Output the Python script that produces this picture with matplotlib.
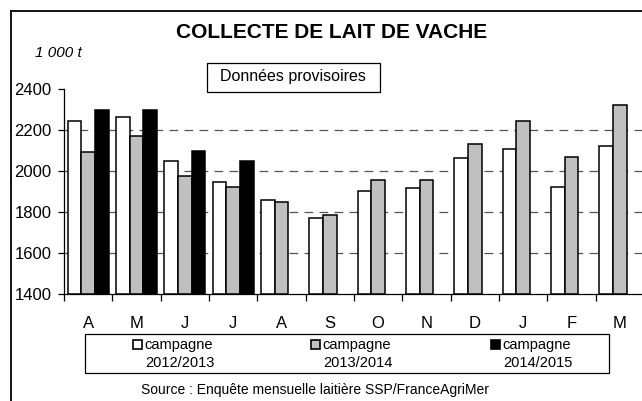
import numpy as np
import matplotlib
matplotlib.use("Agg")
import matplotlib.pyplot as plt
from matplotlib.patches import Rectangle
from matplotlib.lines import Line2D

plt.rcParams['font.family'] = ['Liberation Sans', 'DejaVu Sans']

months = ["A", "M", "J", "J", "A", "S", "O", "N", "D", "J", "F", "M"]
c2012 = [2243, 2261, 2048, 1946, 1860, 1770, 1901, 1915, 2061, 2106, 1924, 2123]
c2013 = [2095, 2170, 1974, 1922, 1850, 1785, 1958, 1957, 2131, 2243, 2066, 2323]
c2014 = [2298, 2298, 2100, 2051]
series_labels = ["campagne\n2012/2013", "campagne\n2013/2014", "campagne\n2014/2015"]
colors = ["white", "#c0c0c0", "black"]

W, H = 642, 401
fig = plt.figure(figsize=(W / 100, H / 100), dpi=100)

def fx(px):
    return px / W

def fy(py):
    return 1 - py / H

ax = fig.add_axes([fx(64), fy(294), fx(644) - fx(64), fy(89) - fy(294)])
bw = 0.283
x = np.arange(len(months))
for i, (vals, col) in enumerate(zip([c2012, c2013, c2014], colors)):
    xi = np.arange(len(vals))
    ax.bar(xi + (i - 1) * bw, np.array(vals) - 1400, bottom=1400, width=bw,
           color=col, edgecolor="black", linewidth=1.1, zorder=3)

ax.set_xlim(-0.5, 11.5)
ax.set_ylim(1400, 2400)
ax.set_yticks([1400, 1600, 1800, 2000, 2200, 2400])
ax.set_yticklabels(["1400", "1600", "1800", "2000", "2200", "2400"], fontsize=12)
for yv in [1600, 1800, 2000, 2200]:
    ax.axhline(yv, color="#555555", linewidth=0.9, dashes=(7, 5), zorder=1)

ax.set_xticks(x)
ax.set_xticklabels(months, fontsize=12)
ax.tick_params(axis="x", which="major", length=0, pad=16)
ax.set_xticks(np.arange(-0.5, 12, 1), minor=True)
ax.tick_params(axis="x", which="minor", length=5, width=0.9, direction="out")
ax.tick_params(axis="y", length=4, width=0.9, direction="out", pad=5)
for s in ["top", "right"]:
    ax.spines[s].set_visible(False)
ax.spines["left"].set_linewidth(0.9)
ax.spines["bottom"].set_linewidth(0.9)
ax.set_facecolor("none")

# outer frame (left and top)
fig.add_artist(Line2D([fx(11), fx(11)], [fy(11), 0], color="black", linewidth=1.3))
fig.add_artist(Line2D([fx(11), 1], [fy(11), fy(11)], color="black", linewidth=1.3))

fig.text(fx(332), fy(33), "COLLECTE DE LAIT DE VACHE", fontsize=15, fontweight="bold",
         ha="center", va="center")
fig.text(fx(35), fy(53), "1 000 t", fontsize=11, style="italic", ha="left", va="center")

fig.add_artist(Rectangle((fx(207), fy(92)), fx(380) - fx(207), fy(63) - fy(92),
                         transform=fig.transFigure, facecolor="white", edgecolor="black",
                         linewidth=0.9))
fig.text(fx(293), fy(76), "Données provisoires", fontsize=11.5, ha="center", va="center")

# legend
fig.add_artist(Rectangle((fx(85), fy(373)), fx(609) - fx(85), fy(334) - fy(373),
                         transform=fig.transFigure, facecolor="white", edgecolor="black",
                         linewidth=0.9))
mark_x = [133, 311, 491]
for mx, lab, col in zip(mark_x, series_labels, colors):
    fig.add_artist(Rectangle((fx(mx), fy(349)), fx(9), fy(340) - fy(349),
                             transform=fig.transFigure, facecolor=col,
                             edgecolor="black", linewidth=1.2))
    l1, l2 = lab.split("\n")
    fig.text(fx(mx + 11), fy(345), l1, fontsize=10.5, ha="left", va="center")
    fig.text(fx(mx + 47), fy(363), l2, fontsize=10.5, ha="center", va="center")

fig.text(fx(315), fy(390), "Source : Enquête mensuelle laitière SSP/FranceAgriMer",
         fontsize=10, ha="center", va="center")

fig.savefig("out.png", dpi=100)
